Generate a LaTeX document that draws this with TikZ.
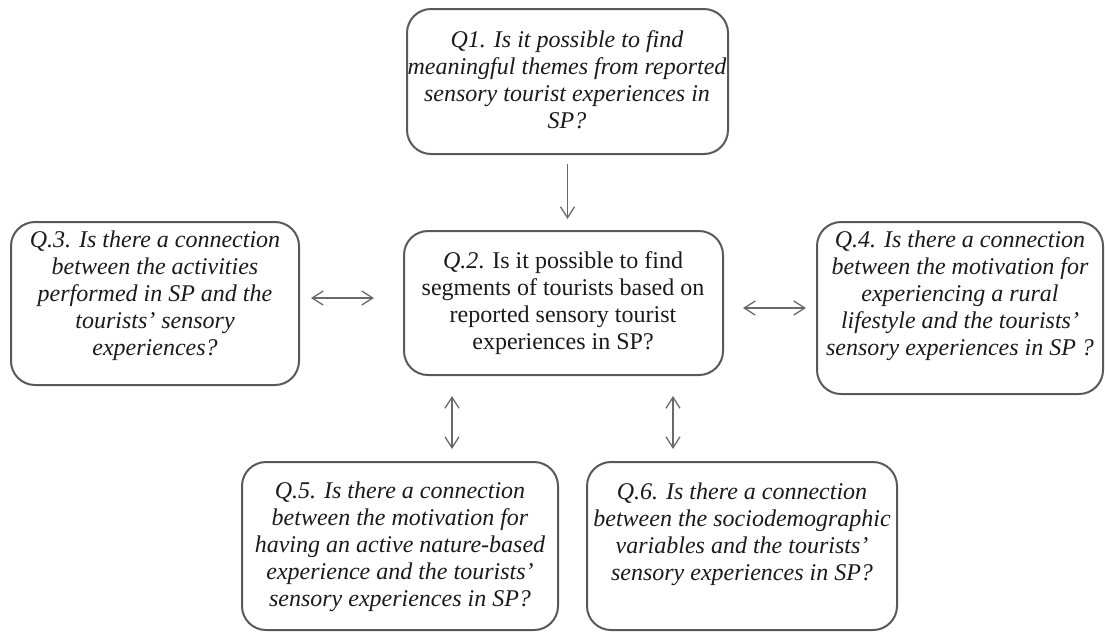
\documentclass[tikz,border=0pt]{standalone}
\usepackage{fontspec}
\setmainfont{Liberation Serif}
\usetikzlibrary{arrows.meta}
\definecolor{boxgray}{HTML}{595959}
\definecolor{arrgray}{HTML}{6A6A6A}
\definecolor{txt}{HTML}{1A1A1A}
\begin{document}
\begin{tikzpicture}[x=1pt,y=-1pt,
  qbox/.style={draw=boxgray, line width=2pt, rounded corners=24pt, inner sep=0pt},
  qtext/.style={align=center, inner sep=0pt, anchor=north, text=txt,
    font=\fontsize{24}{27}\selectfont\itshape},
  barb/.tip={Straight Barb[length=11pt,width=14pt]},
  twoway/.style={draw=arrgray, line width=1.3pt, barb-barb},
  oneway/.style={draw=arrgray, line width=1.3pt, -barb}]
\useasboundingbox (0,0) rectangle (1105,633);

% boxes
\node[qbox, minimum width=321pt, minimum height=145pt] (q1) at (567.5,81.5) {};
\node[qbox, minimum width=319pt, minimum height=144pt] (q2) at (563.5,303) {};
\node[qbox, minimum width=288pt, minimum height=163pt] (q3) at (155,303.5) {};
\node[qbox, minimum width=286pt, minimum height=172pt] (q4) at (960,308) {};
\node[qbox, minimum width=316pt, minimum height=168pt] (q5) at (400,546) {};
\node[qbox, minimum width=310pt, minimum height=168pt] (q6) at (742,546) {};

% texts
\node[qtext] (t1) at (567,30) {Q1. Is it possible to find\\meaningful themes from reported\\sensory tourist experiences in\\SP?};
\node[qtext, font=\fontsize{24}{27}\selectfont\upshape] (t2) at (563,251) {\textit{Q.2}. Is it possible to find\\segments of tourists based on\\reported sensory tourist\\experiences in SP?};
\node[qtext] (t3) at (155,231) {Q.3. Is there a connection\\between the activities\\performed in SP and the\\tourists’ sensory\\experiences?};
\node[qtext] (t4) at (960,231) {Q.4. Is there a connection\\between the motivation for\\experiencing a rural\\lifestyle and the tourists’\\sensory experiences in SP ?};
\node[qtext] (t5) at (400,482) {Q.5. Is there a connection\\between the motivation for\\having an active nature-based\\experience and the tourists’\\sensory experiences in SP?};
\node[qtext] (t6) at (742,483) {Q.6. Is there a connection\\between the sociodemographic\\variables and the tourists’\\sensory experiences in SP?};

% connectors
\draw[oneway, shorten <=9pt, shorten >=11pt] (q1.south) -- (q1.south |- q2.north);
\draw[twoway, shorten <=11pt, shorten >=29pt] ([yshift=5.5pt]q3.east) coordinate (c3) -- (c3 -| q2.west);
\draw[twoway, shorten <=19pt, shorten >=10pt] ([yshift=-5pt]q2.east) coordinate (c4) -- (c4 -| q4.west);
\draw[twoway, shorten <=20pt, shorten >=12pt] ([xshift=-111.5pt]q2.south) coordinate (c5) -- (c5 |- q5.north);
\draw[twoway, shorten <=20pt, shorten >=12pt] ([xshift=109.5pt]q2.south) coordinate (c6) -- (c6 |- q6.north);
\end{tikzpicture}
\end{document}
